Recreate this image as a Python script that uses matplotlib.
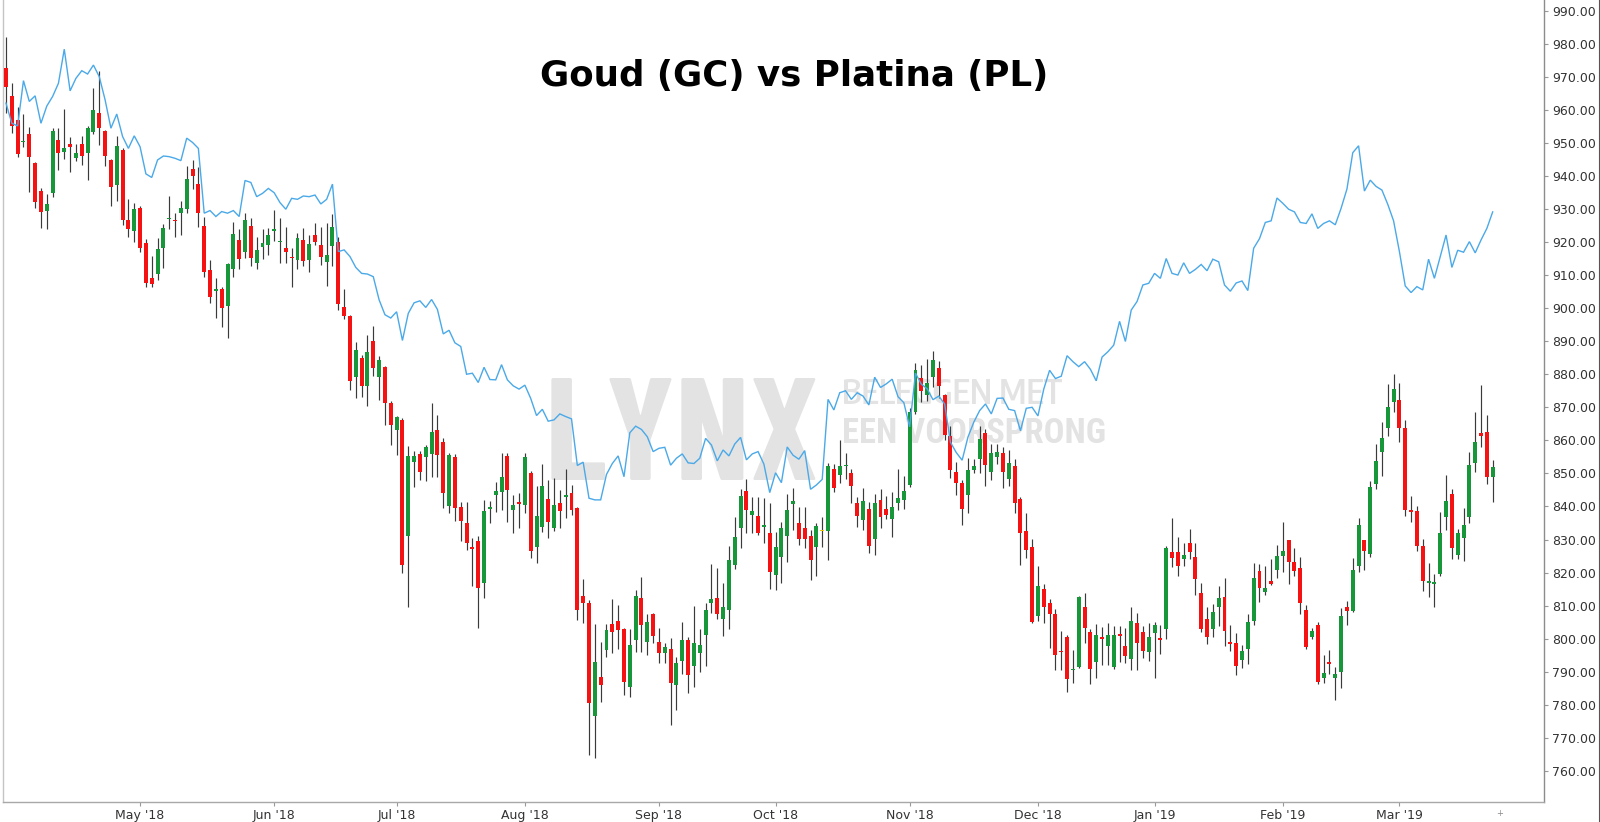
import numpy as np
import pandas as pd
import matplotlib
matplotlib.use("Agg")
import matplotlib.pyplot as plt
from matplotlib import font_manager
from matplotlib.font_manager import FontProperties
from matplotlib.textpath import TextPath
from matplotlib.lines import Line2D

# ---------------- data (platinum candles, gold line on the same price axis) ----------------
opens = [972.5, 964.2, 956.9, 950.2, 952.7, 944.0, 935.5, 929.5, 934.9, 950.9,
         947.1, 949.6, 945.5, 949.6, 947.0, 953.4, 959.1, 953.7, 944.8, 937.1,
         947.8, 926.7, 923.4, 930.2, 919.6, 909.0, 910.3, 918.1, 926.9, 926.7,
         928.7, 929.9, 942.1, 937.5, 924.9, 911.6, 905.3, 905.7, 900.7, 911.8,
         920.6, 917.1, 924.9, 913.6, 918.6, 919.1, 923.4, 919.9, 918.1, 915.6,
         914.6, 920.6, 914.6, 922.1, 919.1, 913.8, 918.8, 920.1, 900.3, 897.6,
         879.1, 884.8, 876.3, 889.9, 879.3, 882.3, 871.4, 863.2, 866.2, 831.1,
         853.6, 855.9, 854.9, 855.9, 863.1, 859.6, 840.2, 854.9, 839.8, 835.1,
         827.9, 829.7, 817.0, 839.2, 843.5, 844.5, 855.3, 838.8, 841.3, 840.5,
         850.2, 827.7, 833.7, 842.2, 833.4, 841.2, 843.0, 844.2, 839.5, 812.9,
         810.9, 776.7, 788.3, 796.6, 804.5, 805.5, 802.9, 785.3, 799.6, 812.2,
         799.1, 807.4, 799.1, 795.6, 797.0, 786.0, 793.4, 799.6, 791.8, 795.8,
         801.1, 810.7, 812.2, 805.9, 808.7, 822.3, 833.4, 844.8, 837.5, 837.1,
         833.8, 832.1, 819.3, 824.6, 831.1, 840.9, 835.1, 833.4, 831.1, 827.9,
         832.7, 832.7, 851.2, 849.5, 852.1, 850.2, 841.2, 835.9, 839.2, 830.1,
         842.0, 839.2, 836.1, 841.0, 842.0, 846.5, 868.7, 878.8, 873.7, 879.1,
         881.8, 873.7, 861.3, 850.5, 847.2, 843.5, 851.1, 854.3, 862.3, 850.5,
         854.9, 856.3, 848.2, 852.3, 842.2, 832.7, 827.9, 806.9, 814.9, 810.9,
         807.5, 796.3, 800.4, 790.5, 791.6, 809.7, 801.9, 793.1, 800.4, 797.8,
         791.6, 801.4, 797.8, 793.8, 804.9, 801.9, 796.1, 801.6, 800.1, 802.9,
         826.3, 826.3, 824.0, 828.9, 824.8, 813.8, 805.9, 802.8, 809.7, 812.6,
         798.9, 798.7, 793.5, 797.0, 805.4, 820.5, 814.1, 817.5, 820.9, 825.1,
         829.8, 823.3, 821.3, 808.6, 800.4, 804.3, 788.0, 793.1, 788.0, 790.0,
         809.7, 808.5, 822.1, 829.8, 825.6, 846.8, 856.4, 863.8, 871.5, 872.3,
         863.8, 839.0, 838.7, 828.2, 817.0, 816.7, 819.6, 836.7, 843.7, 825.4,
         830.6, 836.7, 853.2, 862.2, 862.4, 848.8]
highs = [982.0, 968.0, 960.9, 958.7, 954.9, 944.3, 936.4, 934.4, 954.6, 954.6,
         960.1, 951.6, 949.6, 952.2, 955.1, 966.5, 971.7, 953.9, 945.0, 951.9,
         948.5, 933.0, 931.7, 931.0, 920.9, 915.9, 921.1, 925.4, 933.9, 928.9,
         932.5, 943.1, 944.8, 942.8, 927.7, 914.6, 909.0, 906.5, 913.6, 925.9,
         923.9, 928.7, 927.2, 921.6, 923.9, 924.1, 929.7, 927.2, 924.6, 918.1,
         922.8, 924.1, 922.1, 925.7, 924.4, 925.7, 928.5, 921.4, 905.7, 897.9,
         889.6, 885.9, 892.0, 894.6, 885.5, 882.6, 872.0, 867.4, 866.7, 858.3,
         856.9, 856.9, 858.6, 871.2, 867.7, 860.6, 856.3, 855.9, 841.5, 841.5,
         830.4, 831.1, 842.0, 841.8, 847.5, 856.3, 856.3, 843.5, 844.0, 856.1,
         850.8, 846.2, 852.9, 848.0, 848.5, 845.0, 851.2, 846.5, 839.8, 818.0,
         811.7, 804.5, 799.1, 804.5, 811.9, 810.2, 803.2, 802.9, 814.6, 818.8,
         807.5, 807.7, 803.2, 798.6, 800.1, 794.4, 805.2, 800.6, 809.9, 802.9,
         810.9, 822.6, 821.3, 817.0, 828.1, 836.9, 845.2, 848.2, 842.8, 843.0,
         842.5, 841.0, 832.4, 835.4, 843.8, 845.5, 839.8, 839.8, 832.9, 834.9,
         836.7, 853.3, 852.9, 860.1, 856.1, 851.2, 842.8, 845.5, 841.5, 843.8,
         845.2, 843.2, 844.5, 851.2, 849.2, 869.7, 883.3, 882.8, 884.5, 887.1,
         884.1, 873.9, 864.2, 853.6, 848.0, 854.6, 854.3, 864.4, 863.3, 858.9,
         858.9, 858.1, 857.1, 854.3, 843.0, 838.1, 830.1, 822.0, 816.6, 811.9,
         808.9, 802.2, 801.1, 796.6, 812.9, 813.9, 802.9, 804.4, 803.5, 804.7,
         803.9, 803.9, 803.2, 809.5, 807.7, 803.9, 804.9, 805.2, 804.2, 828.1,
         836.4, 830.7, 829.0, 833.1, 828.9, 817.0, 809.7, 810.5, 816.1, 818.4,
         804.3, 801.6, 798.1, 807.4, 822.8, 822.5, 821.9, 824.2, 828.3, 835.2,
         829.9, 827.4, 824.8, 810.1, 803.3, 805.1, 795.2, 796.6, 791.5, 809.4,
         811.4, 824.4, 836.4, 830.0, 847.6, 858.9, 865.7, 876.9, 880.0, 877.3,
         866.1, 843.3, 840.2, 830.2, 822.8, 819.6, 838.3, 849.5, 845.3, 833.2,
         839.5, 856.4, 868.5, 876.6, 867.6, 854.1]
lows = [959.0, 952.9, 945.8, 948.8, 935.2, 930.2, 924.2, 923.9, 933.7, 941.8,
        945.1, 941.3, 944.6, 943.3, 938.8, 952.7, 949.3, 943.1, 931.0, 932.4,
        925.2, 921.4, 920.1, 916.9, 906.5, 906.3, 908.5, 912.1, 923.9, 921.4,
        922.1, 928.7, 935.9, 924.5, 909.5, 901.5, 897.0, 894.4, 890.9, 909.5,
        911.8, 915.1, 912.6, 911.8, 914.8, 916.1, 920.4, 913.6, 913.6, 906.3,
        911.8, 912.6, 910.8, 919.1, 913.1, 906.7, 912.6, 899.3, 896.8, 875.3,
        872.8, 873.2, 870.4, 879.5, 872.2, 864.7, 858.6, 855.6, 819.8, 809.5,
        845.8, 848.0, 847.8, 849.0, 849.0, 839.5, 837.9, 835.7, 829.7, 826.9,
        816.0, 803.2, 812.2, 834.9, 838.4, 838.9, 835.4, 832.1, 833.4, 838.0,
        824.3, 822.8, 832.4, 830.4, 832.7, 833.4, 836.4, 837.4, 805.7, 804.7,
        764.9, 763.9, 781.0, 794.6, 795.6, 796.8, 783.0, 782.3, 796.1, 796.1,
        795.1, 798.8, 792.8, 792.6, 773.9, 778.5, 789.4, 783.5, 785.5, 789.8,
        791.8, 807.9, 805.9, 800.8, 802.9, 821.0, 827.4, 831.9, 831.9, 831.4,
        828.9, 815.0, 814.6, 816.8, 823.3, 832.9, 828.4, 827.4, 817.8, 819.0,
        827.9, 823.8, 844.5, 847.2, 848.2, 841.2, 833.9, 832.9, 825.8, 825.3,
        833.4, 836.1, 830.9, 838.8, 839.2, 845.8, 868.0, 871.7, 872.0, 876.1,
        872.7, 860.1, 848.5, 843.5, 834.4, 838.1, 850.2, 850.2, 846.2, 848.0,
        852.9, 845.5, 846.2, 837.9, 822.3, 824.3, 804.7, 805.5, 804.9, 797.1,
        790.4, 790.4, 784.0, 786.5, 791.1, 798.6, 786.3, 788.0, 792.1, 792.1,
        790.8, 793.1, 792.8, 790.6, 790.6, 794.1, 793.4, 788.0, 795.4, 799.8,
        821.6, 819.0, 822.0, 824.0, 813.2, 802.0, 798.5, 800.4, 803.9, 797.8,
        796.4, 788.9, 791.1, 792.3, 804.3, 811.2, 813.2, 816.3, 818.4, 820.1,
        816.7, 819.0, 807.4, 797.0, 799.9, 786.2, 786.5, 789.4, 781.6, 785.0,
        804.3, 808.0, 820.1, 820.7, 824.8, 845.3, 849.1, 861.3, 868.5, 859.5,
        837.2, 835.2, 826.5, 814.3, 812.6, 809.7, 819.0, 832.9, 824.2, 824.2,
        823.6, 834.9, 850.3, 858.0, 846.8, 841.3]
closes = [966.8, 955.1, 946.6, 950.6, 945.6, 932.2, 929.2, 931.4, 953.7, 947.0,
          948.5, 948.8, 947.0, 946.0, 954.4, 959.9, 954.4, 946.0, 936.6, 949.0,
          926.5, 923.9, 930.0, 918.1, 907.7, 907.3, 917.8, 924.1, 927.3, 926.2,
          930.2, 939.0, 940.0, 928.9, 910.8, 903.5, 905.7, 900.0, 913.4, 922.4,
          914.8, 926.5, 915.1, 917.6, 919.6, 922.1, 923.9, 920.3, 917.1, 915.1,
          921.1, 914.1, 919.4, 920.1, 915.4, 916.1, 924.4, 901.3, 897.6, 878.1,
          887.2, 876.3, 886.6, 881.8, 884.3, 871.4, 864.7, 867.0, 822.3, 855.3,
          855.3, 850.5, 857.9, 862.6, 855.6, 844.2, 855.6, 839.5, 835.7, 829.1,
          827.1, 815.3, 838.5, 839.8, 844.8, 848.8, 845.0, 840.6, 840.8, 854.9,
          826.4, 837.1, 846.2, 835.4, 840.5, 838.5, 843.5, 838.8, 808.7, 810.7,
          780.5, 793.1, 786.0, 802.7, 801.9, 802.5, 787.0, 798.0, 812.9, 804.2,
          805.2, 800.8, 795.8, 797.4, 786.7, 792.8, 799.6, 789.0, 798.8, 798.0,
          808.7, 812.0, 807.5, 809.7, 823.8, 830.9, 843.2, 838.8, 838.5, 832.1,
          834.4, 820.3, 827.9, 833.4, 838.9, 841.7, 830.1, 830.1, 823.8, 834.1,
          832.7, 852.1, 845.5, 852.1, 852.6, 846.2, 837.1, 841.8, 828.1, 841.0,
          836.9, 837.4, 839.9, 842.5, 844.8, 868.7, 881.3, 875.0, 877.3, 884.3,
          876.3, 861.6, 851.1, 847.0, 839.2, 851.1, 852.2, 860.3, 852.6, 856.3,
          856.6, 850.5, 853.3, 841.0, 831.9, 826.7, 805.2, 816.0, 809.7, 807.5,
          795.1, 795.9, 787.7, 790.9, 812.7, 803.2, 790.8, 801.1, 799.8, 801.1,
          801.1, 800.9, 794.8, 805.5, 798.8, 796.4, 800.4, 804.2, 799.6, 827.4,
          824.3, 822.0, 825.3, 826.3, 818.0, 802.8, 800.4, 808.0, 812.4, 802.4,
          798.5, 791.7, 796.4, 805.1, 818.4, 815.2, 815.3, 816.7, 825.1, 826.5,
          823.3, 820.5, 810.9, 797.5, 802.4, 786.9, 789.7, 792.3, 789.4, 807.0,
          808.5, 820.9, 834.4, 826.5, 846.0, 853.7, 860.7, 870.0, 875.4, 863.8,
          839.0, 838.3, 828.2, 817.5, 817.5, 817.3, 832.1, 841.8, 827.4, 832.1,
          834.4, 852.6, 859.5, 861.3, 848.8, 852.0]
gold = [962.0, 955.9, 955.1, 968.8, 962.5, 964.2, 955.9, 961.1, 964.0, 968.0,
        978.3, 965.7, 969.5, 971.8, 970.8, 973.5, 970.0, 963.0, 954.4, 958.7,
        951.9, 948.3, 952.1, 948.8, 940.6, 939.5, 944.8, 946.0, 945.8, 945.3,
        944.6, 951.4, 950.1, 948.3, 928.7, 929.5, 927.7, 929.2, 928.7, 929.5,
        927.7, 938.6, 938.0, 933.7, 934.7, 936.2, 934.9, 931.9, 929.9, 933.2,
        932.9, 933.9, 933.7, 934.2, 931.5, 932.9, 937.5, 917.1, 917.6, 915.6,
        912.3, 910.5, 910.3, 909.5, 902.5, 898.0, 897.0, 898.9, 890.2, 898.4,
        901.6, 902.2, 900.2, 902.6, 899.6, 892.2, 893.3, 889.5, 888.4, 880.0,
        880.3, 877.5, 882.1, 878.4, 878.3, 882.9, 878.3, 876.5, 875.5, 876.7,
        872.7, 867.5, 869.4, 865.8, 866.2, 868.0, 867.2, 866.5, 852.4, 853.4,
        842.5, 842.0, 842.0, 849.7, 853.0, 855.3, 849.0, 862.3, 864.3, 863.3,
        861.1, 856.6, 857.6, 857.9, 852.5, 854.6, 855.9, 853.2, 853.0, 854.6,
        860.6, 858.6, 853.8, 857.1, 855.3, 858.9, 860.9, 854.1, 855.9, 856.6,
        852.8, 844.2, 850.2, 847.2, 858.0, 855.5, 854.3, 856.9, 845.2, 846.5,
        848.2, 872.4, 869.2, 874.4, 875.0, 872.4, 874.4, 873.4, 870.7, 879.1,
        876.0, 877.1, 878.5, 873.2, 871.4, 864.1, 880.3, 877.0, 875.6, 872.3,
        873.4, 871.0, 859.4, 856.3, 854.0, 861.0, 865.5, 869.0, 871.0, 868.0,
        872.7, 872.8, 869.4, 869.0, 862.9, 869.7, 870.0, 867.4, 875.5, 881.2,
        878.7, 879.4, 885.6, 883.8, 882.3, 883.8, 881.5, 878.0, 885.2, 886.8,
        888.8, 896.0, 889.9, 899.4, 902.0, 907.0, 907.5, 910.5, 909.0, 915.0,
        910.5, 910.0, 913.7, 910.5, 911.7, 913.2, 911.3, 914.8, 914.0, 907.0,
        905.1, 907.6, 908.2, 905.3, 918.1, 921.0, 925.9, 926.4, 933.3, 931.7,
        929.9, 929.1, 925.9, 925.6, 928.5, 924.1, 925.6, 926.4, 925.2, 930.2,
        936.0, 947.0, 949.1, 935.4, 938.7, 936.8, 935.7, 931.4, 926.4, 917.1,
        906.7, 904.7, 906.5, 905.5, 914.8, 909.0, 915.5, 922.1, 912.3, 917.5,
        916.9, 920.1, 916.7, 920.6, 924.1, 929.1]
month_labels = ["May '18", "Jun '18", "Jul '18", "Aug '18", "Sep '18", "Oct '18",
                "Nov '18", "Dec '18", "Jan '19", "Feb '19", "Mar '19"]
price_ticks = list(range(760, 1000, 10))
title_text = "Goud (GC) vs Platina (PL)"

# trading sessions shown on the chart
dates = pd.bdate_range("2018-03-28", "2019-03-25")
dates = dates.drop(pd.to_datetime(["2018-03-30", "2018-12-25", "2019-01-01"]))

# ---------------- styling ----------------
RED = "#f51212"
GREEN = "#17973a"
YELLOW = "#f0c800"
WICK = "#3a3a3a"
BLUE = "#4aa9e8"
WM = "#e3e3e3"

plt.rcParams["font.family"] = ["DejaVu Sans"]

W, H = 1600, 822
fig = plt.figure(figsize=(W / 100, H / 100), dpi=100, facecolor="white")
ax = fig.add_axes([3 / W, 20 / H, 1541 / W, 802 / H])
ax.patch.set_alpha(0)

n = len(opens)
x = np.arange(n)
o = np.array(opens); c = np.array(closes)
h = np.array(highs); l = np.array(lows)

body_lo = np.minimum(o, c)
body_h = np.abs(c - o)
small = body_h < 0.45
body_lo = np.where(small, (o + c) / 2 - 0.225, body_lo)
body_h = np.where(small, 0.45, body_h)
cols = np.where(c > o, GREEN, np.where(c < o, RED, YELLOW))

ax.vlines(x, np.minimum(l, body_lo), np.maximum(h, body_lo + body_h),
          color=WICK, lw=0.85, zorder=2)
ax.bar(x, body_h, width=0.68, bottom=body_lo, color=cols, linewidth=0, zorder=3)
ax.plot(x, gold, color=BLUE, lw=1.0, zorder=4, solid_joinstyle="miter")

ax.set_xlim(-0.51, 263.8)
ax.set_ylim(750.63, 993.18)

# axes look
ax.spines["top"].set_visible(False)
ax.spines["left"].set_color("#c4c4c4")
ax.spines["bottom"].set_color("#a8a8a8")
ax.spines["right"].set_color("#8c8c8c")
for s in ["left", "bottom", "right"]:
    ax.spines[s].set_linewidth(1.0)

ax.yaxis.tick_right()
ax.set_yticks(price_ticks)
ax.set_yticklabels([f"{v:.2f}" for v in price_ticks])
ax.tick_params(axis="y", length=3, width=0.8, color="#999999", pad=3,
               labelsize=9, labelcolor="#333333")

ym = dates.year * 100 + dates.month
starts = [i for i in range(1, len(dates)) if ym[i] != ym[i - 1]][1:]
ax.set_xticks(starts[:len(month_labels)])
ax.set_xticklabels(month_labels)
ax.tick_params(axis="x", length=3, width=0.8, color="#999999", pad=2,
               labelsize=9, labelcolor="#333333")

# ---------------- title ----------------
t = fig.text(794 / W, 1 - 76 / H, title_text, ha="center", va="center",
             fontsize=26, fontweight="bold", color="black")
fig.canvas.draw()
bb = t.get_window_extent()
t.set_fontsize(26 * 510 / bb.width)

# ---------------- watermark ----------------
PX = 100 / 72
good_names = ("Liberation Sans Narrow", "DejaVu Sans", "Liberation Sans", "Roboto",
              "Roboto Condensed", "Open Sans", "Open Sans Condensed", "Lato",
              "Inter", "Noto Sans", "Noto Sans Display")
candidates = []
for fe in font_manager.fontManager.ttflist:
    if fe.name not in good_names and "Condensed" not in fe.name and "Narrow" not in fe.name:
        continue
    if "Mono" in fe.name or "Serif" in fe.name:
        continue
    try:
        wgt = int(fe.weight)
    except Exception:
        wgt = 700 if "bold" in str(fe.weight).lower() else 400
    if wgt < 600 or fe.style != "normal":
        continue
    candidates.append((fe.fname, wgt))


def pick_font(txt, target_aspect):
    best = None
    for fname, wgt in candidates:
        try:
            prop = FontProperties(fname=fname)
            ext = TextPath((0, 0), txt, size=1.0, prop=prop).get_extents()
            asp = (ext.x1 - ext.x0) / ext.y1
        except Exception:
            continue
        score = abs(asp - target_aspect) / target_aspect + (0.01 if wgt > 800 else 0)
        if best is None or score < best[0]:
            best = (score, prop)
    return best[1] if best else FontProperties(family="DejaVu Sans", weight="bold")


def place_logo(txt, ink_left, base, cap_target, width_target, center=False):
    prop = pick_font(txt, width_target / cap_target)
    ext = TextPath((0, 0), txt, size=1.0, prop=prop).get_extents()
    x0, x1, y1 = ext.x0, ext.x1, ext.y1
    asp = (x1 - x0) / y1
    cap = (cap_target * (width_target / asp)) ** 0.5
    size_pt = cap / (y1 * PX)
    ink_w = (x1 - x0) * size_pt * PX
    if center:
        ink_left = ink_left + width_target / 2 - ink_w / 2
    left = ink_left - x0 * size_pt * PX
    fig.text(left / W, 1 - base / H, txt, ha="left", va="baseline",
             fontproperties=prop, fontsize=size_pt, color=WM, zorder=-5)


place_logo("LYNX", 551, 480, 102, 265, center=True)
place_logo("BELEGGEN MET", 844, 404, 25, 218)
place_logo("EEN VOORSPRONG", 844, 443, 25, 259)

# little end marker and right image border
fig.text(1500 / W, 1 - 813 / H, "+", ha="center", va="center", fontsize=6, color="#888888")
fig.add_artist(Line2D([1598.5 / W, 1598.5 / W], [0, 1], color="#555555", lw=0.8))

fig.savefig("out.png", dpi=100, facecolor="white")
